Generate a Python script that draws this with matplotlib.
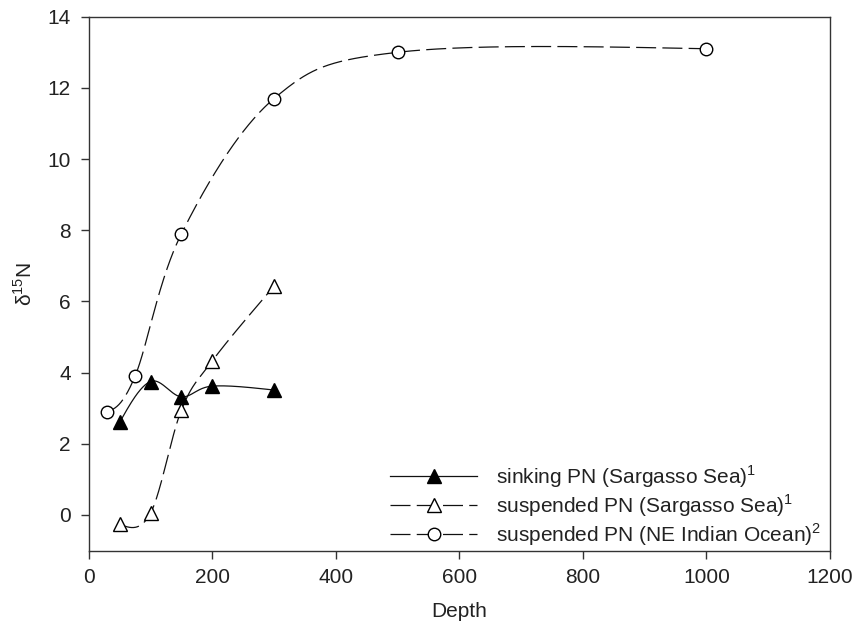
import numpy as np
import matplotlib
matplotlib.use('Agg')
import matplotlib.pyplot as plt

plt.rcParams['font.family'] = ['Liberation Sans', 'DejaVu Sans']
plt.rcParams['mathtext.fontset'] = 'custom'
plt.rcParams['mathtext.rm'] = 'Liberation Sans'

# values
sink_depth = [50, 100, 150, 200, 300]
sink_d15n = [2.6, 3.75, 3.32, 3.62, 3.51]

susp_depth = [50, 100, 150, 200, 300]
susp_d15n = [-0.26, 0.05, 2.95, 4.33, 6.43]

indian_depth = [30, 75, 150, 300, 500, 1000]
indian_d15n = [2.9, 3.9, 7.9, 11.7, 13.0, 13.1]

labels = ['sinking PN (Sargasso Sea)$^{1}$',
          'suspended PN (Sargasso Sea)$^{1}$',
          'suspended PN (NE Indian Ocean)$^{2}$']


def smooth_line(ax, x, y, per_seg=80):
    """Catmull-Rom curve through the points, built in screen space,
    with zero-curvature tangents at the two ends."""
    P = ax.transData.transform(np.column_stack([x, y]))
    m = np.zeros_like(P)
    m[1:-1] = (P[2:] - P[:-2]) / 2
    m[0] = (3 * (P[1] - P[0]) - m[1]) / 2
    m[-1] = (3 * (P[-1] - P[-2]) - m[-2]) / 2
    t = np.linspace(0, 1, per_seg)[:, None]
    h00 = 2 * t ** 3 - 3 * t ** 2 + 1
    h10 = t ** 3 - 2 * t ** 2 + t
    h01 = -2 * t ** 3 + 3 * t ** 2
    h11 = t ** 3 - t ** 2
    segs = [h00 * P[i] + h10 * m[i] + h01 * P[i + 1] + h11 * m[i + 1]
            for i in range(len(P) - 1)]
    back = ax.transData.inverted().transform(np.vstack(segs))
    return back[:, 0], back[:, 1]


fig = plt.figure(figsize=(8.54, 6.26), dpi=100)
ax = fig.add_axes([0.1039, 0.1205, 0.868, 0.8528])
ax.set_xlim(0, 1200)
ax.set_ylim(-1, 14)

dash = (16, 5)
lw = 0.9
series = [
    (sink_depth, sink_d15n, '-', '^', 'black'),
    (susp_depth, susp_d15n, '--', '^', 'white'),
    (indian_depth, indian_d15n, '--', 'o', 'white'),
]

handles = []
for xd, yd, ls, mk, fc in series:
    ms = 9.5 if mk == '^' else 9
    xs, ys = smooth_line(ax, xd, yd)
    line, = ax.plot(xs, ys, color='#111111', lw=lw, linestyle=ls, zorder=2)
    ax.plot(xd, yd, linestyle='none', marker=mk, ms=ms,
            mfc=fc, mec='black', mew=1.0, zorder=3)
    h, = ax.plot([], [], color='#111111', lw=lw, linestyle=ls, marker=mk,
                 ms=ms, mfc=fc, mec='black', mew=1.0)
    if ls == '--':
        line.set_dashes(dash)
        h.set_dashes(dash)
    handles.append(h)

ax.set_xticks(np.arange(0, 1201, 200))
ax.set_yticks(np.arange(0, 15, 2))
ax.tick_params(direction='out', length=5.8, width=1, labelsize=15, pad=7,
               top=False, right=False, colors='#333333', labelcolor='#222222')
for sp in ax.spines.values():
    sp.set_linewidth(1.0)
    sp.set_color('#333333')

ax.set_xlabel('Depth', fontsize=15, labelpad=10.5, color='#222222')
ax.set_ylabel('δ$^{15}$N', fontsize=15, color='#222222')
ax.yaxis.set_label_coords(-0.072, 0.5)

ax.legend(handles, labels, loc='upper left',
          bbox_to_anchor=(390 / 854, 1 - 463 / 626), bbox_transform=fig.transFigure,
          frameon=False, fontsize=15, handlelength=4.2, handletextpad=0.9,
          labelspacing=0.12, borderpad=0, borderaxespad=0, labelcolor='#222222')

fig.savefig('out.png', dpi=100)
